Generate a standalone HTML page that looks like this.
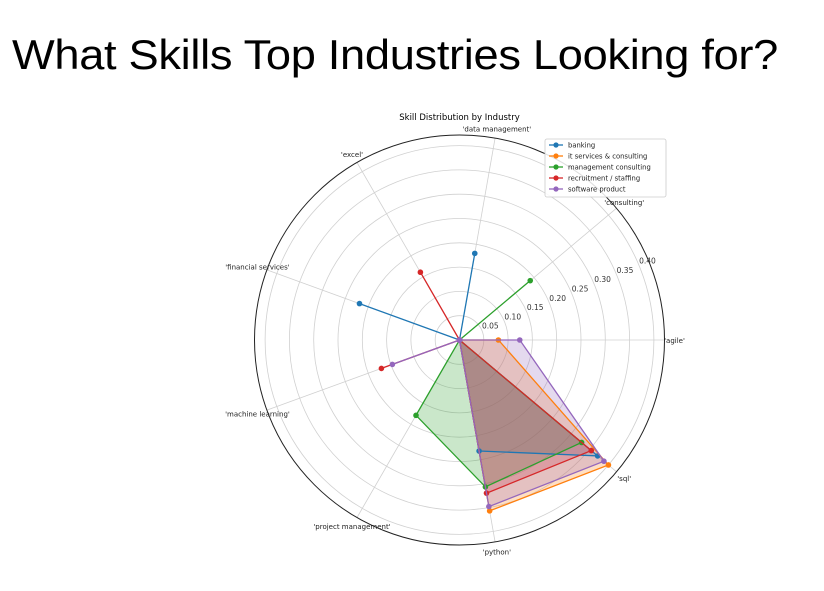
<!DOCTYPE html>
<html><head><meta charset="utf-8"><style>
body{margin:0;background:#fff;width:824px;height:591px;overflow:hidden;font-family:"Liberation Sans",sans-serif}
#t{position:absolute;left:12px;top:31px;font-size:42px;color:#000;letter-spacing:-0.3px;transform:scaleX(1.077);transform-origin:0 0;white-space:nowrap}
svg text{font-family:"DejaVu Sans",sans-serif}
</style></head><body>
<div id="t">What Skills Top Industries Looking for?</div>
<svg id="c" width="824" height="591" style="position:absolute;left:0;top:0"></svg>
<script>
const categories=["agile","consulting","data management","excel","financial services","machine learning","project management","python","sql"];
const seriesNames=["banking","it services & consulting","management consulting","recruitment / staffing","software product"];
const banking=[0,0,0.181,0,0.219,0,0,0.232,0.371];
const itServices=[0.08,0,0,0,0,0,0,0.357,0.40];
const mgmtConsulting=[0,0.19,0,0,0,0,0.179,0.307,0.328];
const recruitment=[0,0,0,0.161,0,0.171,0,0.32,0.354];
const softwareProduct=[0.124,0,0,0,0,0.147,0,0.348,0.388];
const radialTicks=[0.05,0.10,0.15,0.20,0.25,0.30,0.35,0.40];
const colors=["#1f77b4","#ff7f0e","#2ca02c","#d62728","#9467bd"];
const allSeries=[banking,itServices,mgmtConsulting,recruitment,softwareProduct];
const NS="http://www.w3.org/2000/svg";
const svg=document.getElementById('c');
const cx=459.5,cy=340,scale=486,R=205;
function ang(i){return i*2*Math.PI/categories.length;}
function px(i,r){return cx+Math.cos(ang(i))*r*scale;}
function py(i,r){return cy-Math.sin(ang(i))*r*scale;}
function mk(t,a){const e=document.createElementNS(NS,t);for(const k in a)e.setAttribute(k,a[k]);svg.appendChild(e);return e;}
let e=mk('text',{x:cx,y:120,'font-size':8.5,'text-anchor':'middle',fill:'#000'});e.textContent='Skill Distribution by Industry';


radialTicks.forEach(r=>{
 const c=mk('circle',{cx:cx,cy:cy,r:r*scale,fill:'none',stroke:'#d0d0d0','stroke-width':0.8});
 
 
 const a=22.5*Math.PI/180;
 const t=mk('text',{x:cx+Math.cos(a)*r*scale,y:cy-Math.sin(a)*r*scale-2,'font-size':7.5,fill:'#333'});
 t.textContent=r.toFixed(2);
 
 
});
categories.forEach((c,i)=>{
 const l=mk('line',{x1:cx,y1:cy,x2:cx+Math.cos(ang(i))*R,y2:cy-Math.sin(ang(i))*R,stroke:'#d0d0d0','stroke-width':0.8});
 
 
 const t=mk('text',{x:cx+Math.cos(ang(i))*215,y:cy-Math.sin(ang(i))*215+3,'font-size':7,'text-anchor':'middle',fill:'#222'});
 t.textContent="'"+c+"'";
 
 
});
const oc=mk('circle',{cx:cx,cy:cy,r:R,fill:'none',stroke:'#222','stroke-width':1});


allSeries.forEach((s,k)=>{
 const pts=s.map((v,i)=>px(i,v).toFixed(1)+','+py(i,v).toFixed(1)).join(' ');
 const f=mk('polygon',{points:pts,fill:colors[k],'fill-opacity':0.25,stroke:'none'});
 
 
});
allSeries.forEach((s,k)=>{
 const pts=s.map((v,i)=>px(i,v).toFixed(1)+','+py(i,v).toFixed(1)).join(' ');
 const p=mk('polygon',{points:pts,fill:'none',stroke:colors[k],'stroke-width':1.3});
 
 
 s.forEach((v,i)=>{
  const d=mk('circle',{cx:px(i,v),cy:py(i,v),r:2.8,fill:colors[k]});
  
  
 });
});
const lb=mk('rect',{x:545,y:139,width:121,height:58,fill:'#fff','fill-opacity':0.85,stroke:'#ccc','stroke-width':0.8,rx:2});


seriesNames.forEach((n,k)=>{
 const y=145+k*11;
 const l=mk('line',{x1:549,y1:y,x2:563,y2:y,stroke:colors[k],'stroke-width':1.3});
 
 
 const d=mk('circle',{cx:556,cy:y,r:2.6,fill:colors[k]});
 
 
 const t=mk('text',{x:568,y:y+2.5,'font-size':6.8,fill:'#222'});
 t.textContent=n;
 
 
});
</script>
</body></html>
